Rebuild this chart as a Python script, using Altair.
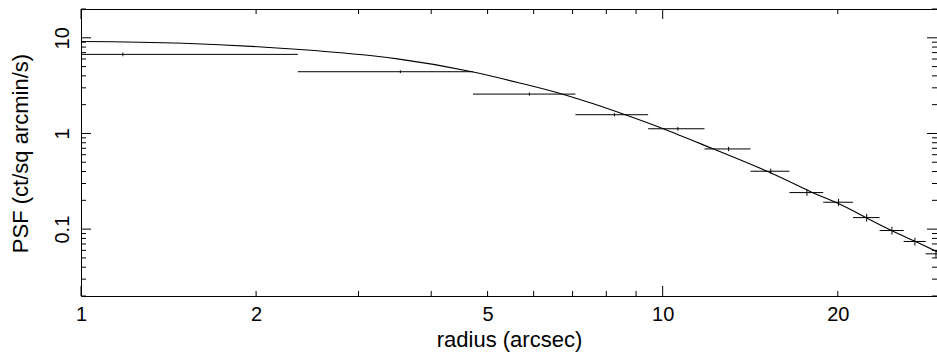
import altair as alt
import pandas as pd

# ---------------- data ----------------
radius = [1.18, 3.54, 5.90, 8.26, 10.62, 12.98, 15.34, 17.70, 20.06, 22.42, 24.78, 27.14, 29.50]
radius_lo = [0.0, 2.36, 4.72, 7.08, 9.44, 11.80, 14.16, 16.52, 18.88, 21.24, 23.60, 25.96, 28.32]
radius_hi = [2.36, 4.72, 7.08, 9.44, 11.80, 14.16, 16.52, 18.88, 21.24, 23.60, 25.96, 28.32, 30.68]
psf = [6.71, 4.42, 2.58, 1.57, 1.12, 0.689, 0.403, 0.241, 0.191, 0.132, 0.0967, 0.0743, 0.0552]
psf_err = [0.30, 0.15, 0.10, 0.06, 0.05, 0.035, 0.025, 0.018, 0.016, 0.012, 0.009, 0.007, 0.005]

model_r = [1.0, 1.5, 2.38, 3.5, 4.70, 5.7, 6.66, 7.6, 8.55, 10.02, 12.2, 15.19, 18.04, 20.0,
           22.42, 24.69, 27.15, 29.62]
model_psf = [9.15, 8.78, 7.55, 6.02, 4.42, 3.35, 2.62, 2.04, 1.595, 1.12, 0.692, 0.397, 0.243,
             0.186, 0.131, 0.0975, 0.0746, 0.0581]

x_labels = [1, 2, 5, 10, 20]
x_ticks_long = [1, 10]
x_ticks_short = [2, 3, 4, 5, 6, 7, 8, 9, 20]
y_labels = [0.1, 1, 10]
y_ticks_long = [0.1, 1, 10]
y_ticks_short = [0.02, 0.03, 0.04, 0.05, 0.06, 0.07, 0.08, 0.09,
                 0.2, 0.3, 0.4, 0.5, 0.6, 0.7, 0.8, 0.9,
                 2, 3, 4, 5, 6, 7, 8, 9, 20]

X_DOMAIN = [1, 29.62]
Y_DOMAIN = [0.02, 20]

# ---------------- layout ----------------
W, H = 856, 287
FONT = "Liberation Sans"
LONG, SHORT = 10, 5

xs = alt.Scale(type="log", domain=X_DOMAIN, nice=False)
ys = alt.Scale(type="log", domain=Y_DOMAIN, nice=False)

xaxis = alt.Axis(
    values=x_labels, format="~g", title="radius (arcsec)", grid=False,
    ticks=False, tickSize=0, domain=False, labelFont=FONT, labelFontSize=20,
    labelColor="black", labelPadding=8, labelFlush=False, titleFont=FONT,
    titleFontSize=22, titleFontWeight="normal", titleColor="black",
    titleBaseline="alphabetic", titleY=50)
yaxis = alt.Axis(
    values=y_labels, format="~g", title="PSF (ct/sq arcmin/s)", grid=False,
    ticks=False, tickSize=0, domain=False, labelFont=FONT, labelFontSize=20,
    labelColor="black", labelAngle=270, labelAlign="center",
    labelBaseline="alphabetic", labelPadding=13, labelFlush=False,
    titleFont=FONT, titleFontSize=22, titleFontWeight="normal",
    titleColor="black", titleAngle=270, titleAlign="center",
    titleBaseline="alphabetic", titleX=-54, titleY=144)

pts = pd.DataFrame({
    "r": radius, "r_lo": radius_lo, "r_hi": radius_hi,
    "p": psf, "p_lo": [a - b for a, b in zip(psf, psf_err)],
    "p_hi": [a + b for a, b in zip(psf, psf_err)],
})
model = pd.DataFrame({"r": model_r, "p": model_psf})

curve = alt.Chart(model).mark_line(
    color="black", strokeWidth=1.1, interpolate="natural", clip=True
).encode(
    x=alt.X("r:Q", scale=xs, axis=xaxis),
    y=alt.Y("p:Q", scale=ys, axis=yaxis),
)

hbars = alt.Chart(pts).transform_calculate(
    r_lo_c=f"max(datum.r_lo, {X_DOMAIN[0]})"
).mark_rule(color="black", strokeWidth=1, clip=True).encode(
    x=alt.X("r_lo_c:Q", scale=xs, axis=xaxis),
    x2="r_hi:Q",
    y=alt.Y("p:Q", scale=ys, axis=yaxis),
)

vbars = alt.Chart(pts).mark_rule(color="black", strokeWidth=1, clip=True).encode(
    x=alt.X("r:Q", scale=xs, axis=xaxis),
    y=alt.Y("p_lo:Q", scale=ys, axis=yaxis),
    y2="p_hi:Q",
)


def xticks(vals, length):
    df = pd.DataFrame({"v": vals})
    bottom = alt.Chart(df).mark_rule(color="black", strokeWidth=1).encode(
        x=alt.X("v:Q", scale=xs, axis=xaxis), y=alt.value(H), y2=alt.value(H - length))
    top = alt.Chart(df).mark_rule(color="black", strokeWidth=1).encode(
        x=alt.X("v:Q", scale=xs, axis=xaxis), y=alt.value(0), y2=alt.value(length))
    return [bottom, top]


def yticks(vals, length):
    df = pd.DataFrame({"v": vals})
    left = alt.Chart(df).mark_rule(color="black", strokeWidth=1).encode(
        y=alt.Y("v:Q", scale=ys, axis=yaxis), x=alt.value(0), x2=alt.value(length))
    right = alt.Chart(df).mark_rule(color="black", strokeWidth=1).encode(
        y=alt.Y("v:Q", scale=ys, axis=yaxis), x=alt.value(W), x2=alt.value(W - length))
    return [left, right]


layers = [curve, hbars, vbars]
layers += xticks(x_ticks_long, LONG) + xticks(x_ticks_short, SHORT)
layers += yticks(y_ticks_long, LONG) + yticks(y_ticks_short, SHORT)

chart = alt.layer(*layers).properties(
    width=W, height=H,
    autosize=alt.AutoSizeParams(type="none"),
    padding={"left": 81, "top": 9, "right": 0, "bottom": 60},
    background="white",
).configure_view(stroke="black", strokeWidth=1)

chart.save("out.html", embed_options={"renderer": "svg", "actions": False})
